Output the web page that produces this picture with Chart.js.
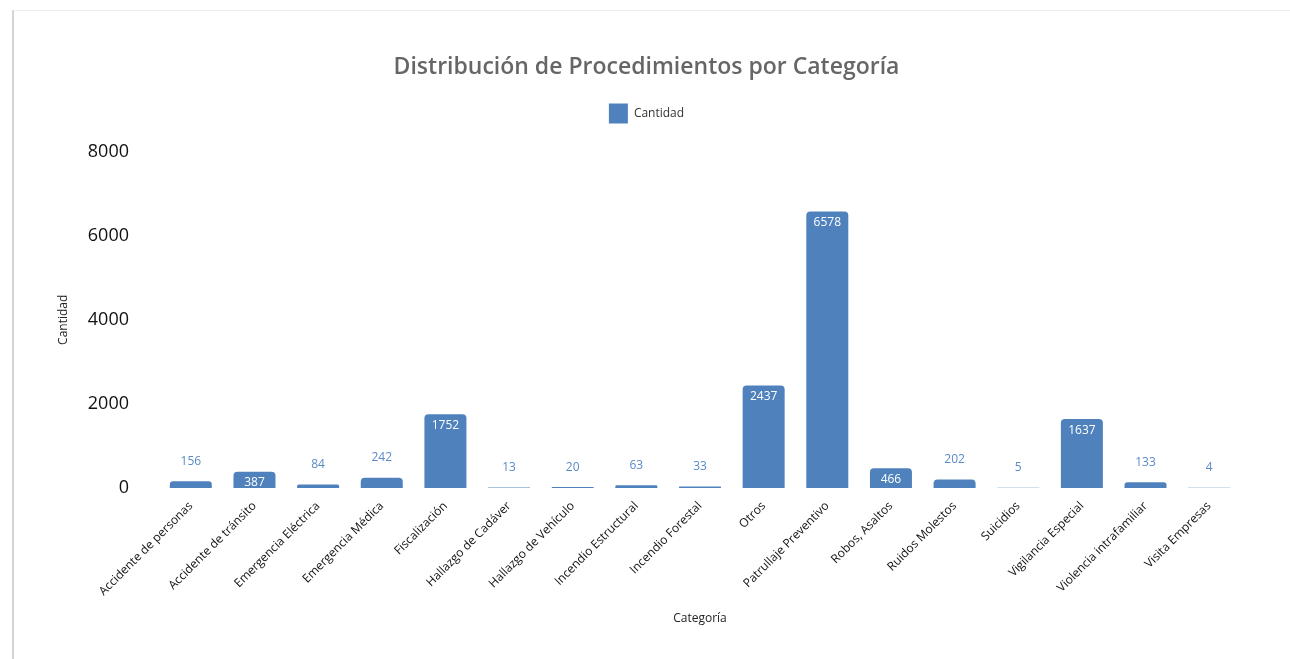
<!DOCTYPE html>
<html>
<head>
<meta charset="utf-8">
<script src="https://cdn.jsdelivr.net/npm/chart.js@4"></script>
<style>
  body { margin: 0; background: #fff; }
  .card {
    position: absolute; left: 12px; top: 10px; width: 1278px; height: 649px;
    border-left: 2px solid #d4d4d4; border-top: 1px solid #ececec;
    box-sizing: border-box;
  }
</style>
</head>
<body>
<div class="card"><canvas id="chart"></canvas></div>
<script>
// categorías y cantidades
const categorias = [
  "Accidente de personas", "Accidente de tránsito", "Emergencia Eléctrica", "Emergencia Médica",
  "Fiscalización", "Hallazgo de Cadáver", "Hallazgo de Vehículo", "Incendio Estructural",
  "Incendio Forestal", "Otros", "Patrullaje Preventivo", "Robos, Asaltos", "Ruidos Molestos",
  "Suicidios", "Vigilancia Especial", "Violencia intrafamiliar", "Visita Empresas"
];
const cantidades = [156, 387, 84, 242, 1752, 13, 20, 63, 33, 2437, 6578, 466, 202, 5, 1637, 133, 4];
const yTicks = [0, 2000, 4000, 6000, 8000];

const azul = "#4f81bd";

// etiquetas de valor: dentro de la barra (blanco) si cabe, si no encima (azul)
const valueLabels = {
  id: "valueLabels",
  afterDatasetsDraw(chart) {
    const ctx = chart.ctx;
    const meta = chart.getDatasetMeta(0);
    ctx.save();
    ctx.font = "12px 'Open Sans'";
    ctx.textAlign = "center";
    ctx.textBaseline = "middle";
    meta.data.forEach((bar, i) => {
      const h = bar.base - bar.y;
      const txt = String(cantidades[i]);
      if (h > 14) {
        ctx.fillStyle = "#ffffff";
        ctx.fillText(txt, bar.x, bar.y + 11);
      } else {
        ctx.fillStyle = "#5a8ac6";
        ctx.fillText(txt, bar.x, bar.y - 20);
      }
    });
    ctx.restore();
  }
};

// espacio extra bajo la leyenda
const legendMargin = {
  id: "legendMargin",
  beforeInit(chart) {
    const fit = chart.legend.fit;
    chart.legend.fit = function () {
      fit.bind(chart.legend)();
      this.height += 18;
    };
  }
};

const ctx = document.getElementById("chart").getContext("2d");
new Chart(ctx, {
  type: "bar",
  data: {
    labels: categorias,
    datasets: [{
      label: "Cantidad",
      data: cantidades,
      backgroundColor: azul,
      borderRadius: { topLeft: 4, topRight: 4 },
      borderSkipped: "bottom",
      categoryPercentage: 0.66,
      barPercentage: 1.0
    }]
  },
  options: {
    responsive: true,
    maintainAspectRatio: false,
    animation: false,
    layout: { padding: { left: 38, right: 49, top: 43, bottom: 29 } },
    plugins: {
      title: {
        display: true,
        text: "Distribución de Procedimientos por Categoría",
        color: "#666",
        font: { family: "'Open Sans'", size: 23, weight: "600" },
        padding: { top: 0, bottom: 12 }
      },
      legend: {
        labels: {
          boxWidth: 19, boxHeight: 20,
          color: "#333",
          font: { family: "'Open Sans'", size: 12 }
        }
      },
      tooltip: { enabled: false }
    },
    scales: {
      x: {
        grid: { display: false },
        border: { display: false },
        ticks: {
          maxRotation: 45, minRotation: 45,
          color: "#111",
          font: { family: "'Open Sans'", size: 12 }
        },
        title: {
          display: true, text: "Categoría", color: "#222",
          font: { family: "'Open Sans'", size: 12 },
          padding: { top: 10 }
        }
      },
      y: {
        min: 0, max: 8000,
        afterBuildTicks(scale) { scale.ticks = yTicks.map(v => ({ value: v })); },
        afterFit(scale) { scale.width = 107; },
        grid: { display: false },
        border: { display: false },
        ticks: {
          color: "#111", padding: 22,
          font: { family: "'Open Sans'", size: 18 },
          callback: v => String(v)
        },
        title: {
          display: true, text: "Cantidad", color: "#222",
          font: { family: "'Open Sans'", size: 12 }
        }
      }
    }
  },
  plugins: [valueLabels, legendMargin]
});
</script>
</body>
</html>
